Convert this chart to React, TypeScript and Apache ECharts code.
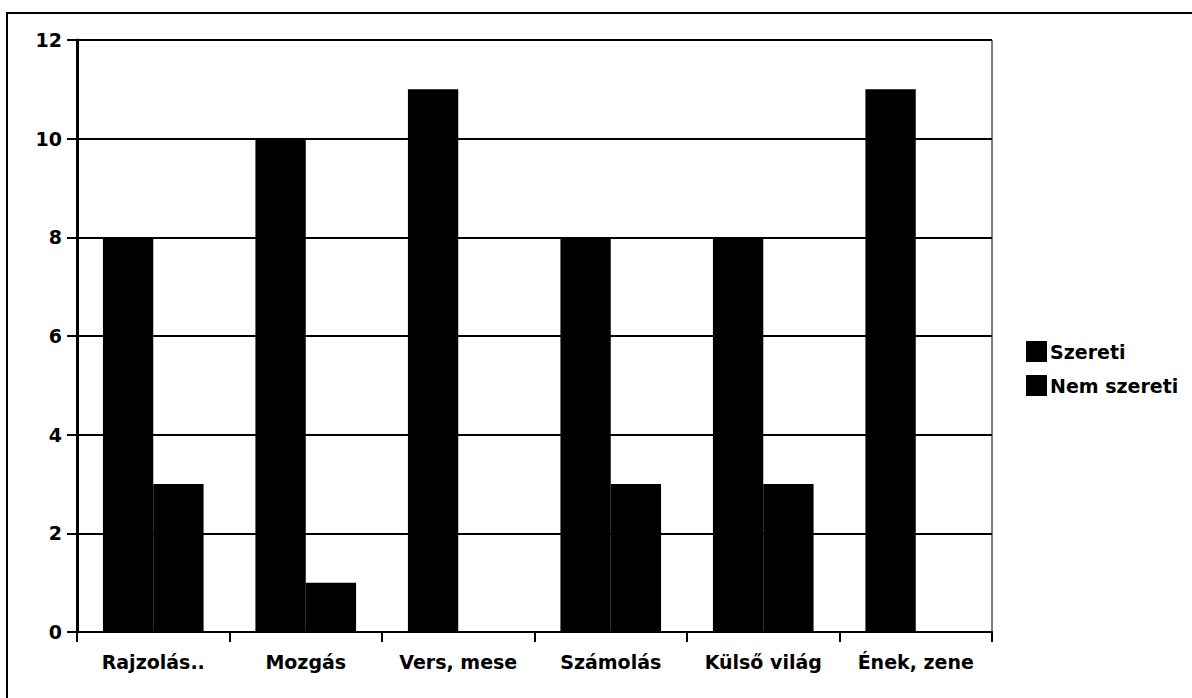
import React, { useEffect, useRef } from "react";
import * as echarts from "echarts";

const categories = ["Rajzolás..", "Mozgás", "Vers, mese", "Számolás", "Külső világ", "Ének, zene"];
const seriesNames = ["Szereti", "Nem szereti"];
const szeretiValues = [8, 10, 11, 8, 8, 11];
const nemSzeretiValues = [3, 1, 0, 3, 3, 0];

const FONT = "DejaVu Sans";

export default function App() {
  const ref = useRef<HTMLDivElement>(null);
  useEffect(() => {
    if (!ref.current) return;
    const chart = echarts.init(ref.current, null, { renderer: "svg" });
    chart.setOption({
      animation: false,
      backgroundColor: "#ffffff",
      graphic: [
        {
          type: "rect",
          shape: { x: 7, y: 13, width: 1400, height: 900 },
          style: { fill: "none", stroke: "#000", lineWidth: 2 },
          silent: true,
        },
      ],
      grid: {
        left: 77,
        top: 40,
        width: 915,
        height: 592,
        show: true,
        borderColor: "#000",
        borderWidth: 1,
        backgroundColor: "transparent",
      },
      legend: {
        orient: "vertical",
        left: 1021,
        top: 336,
        itemWidth: 21,
        itemHeight: 21,
        itemGap: 13,
        icon: "rect",
        data: seriesNames,
        textStyle: {
          fontFamily: FONT,
          fontWeight: "bold",
          fontSize: 19,
          color: "#000",
          padding: [0, 0, 0, -2],
        },
      },
      xAxis: {
        type: "category",
        data: categories,
        boundaryGap: true,
        axisLine: { show: true, lineStyle: { color: "#000", width: 2 } },
        axisTick: { show: true, length: 10, lineStyle: { color: "#000", width: 2 } },
        axisLabel: {
          margin: 20,
          fontFamily: FONT,
          fontWeight: "bold",
          fontSize: 19,
          color: "#000",
          interval: 0,
        },
        splitLine: { show: false },
      },
      yAxis: {
        type: "value",
        min: 0,
        max: 12,
        interval: 2,
        axisLine: { show: true, lineStyle: { color: "#000", width: 3 } },
        axisTick: { show: true, length: 10, lineStyle: { color: "#000", width: 2 } },
        axisLabel: {
          margin: 15,
          fontFamily: FONT,
          fontWeight: "bold",
          fontSize: 19,
          color: "#000",
        },
        splitLine: { show: true, lineStyle: { color: "#000", width: 2 } },
      },
      series: [
        {
          name: seriesNames[0],
          type: "bar",
          data: szeretiValues,
          itemStyle: { color: "#000" },
          barGap: "0%",
          barCategoryGap: "34%",
        },
        {
          name: seriesNames[1],
          type: "bar",
          data: nemSzeretiValues,
          itemStyle: { color: "#000" },
          barGap: "0%",
          barCategoryGap: "34%",
        },
      ],
    });
    return () => chart.dispose();
  }, []);
  return (
    <div
      ref={ref}
      style={{ position: "fixed", left: 0, top: 0, width: 1192, height: 698 }}
    />
  );
}
